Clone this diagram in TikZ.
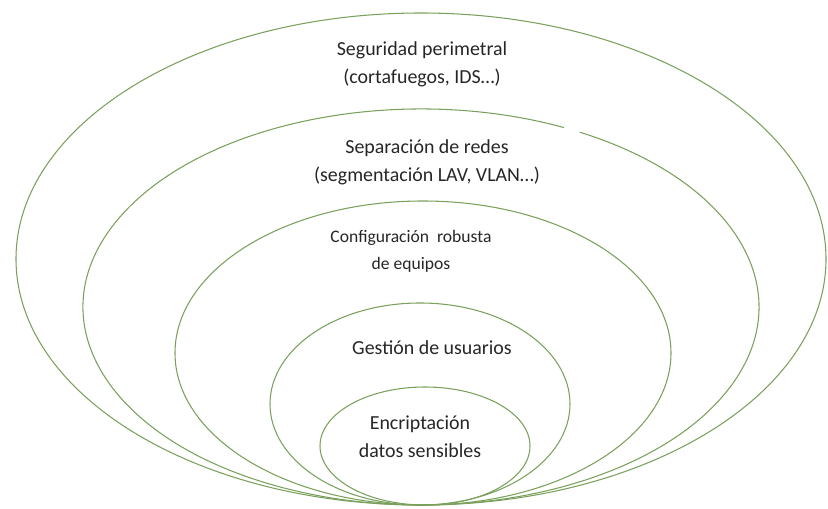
\documentclass[tikz,border=0pt]{standalone}
\usepackage{fontspec}
\setmainfont{Carlito}
\usetikzlibrary{positioning}
\definecolor{ringgreen}{RGB}{122,160,92}
\tikzset{
 ring/.style={draw=ringgreen,line width=0.9pt},
 ringtext/.style={align=center,text=black!85,inner sep=0pt,
             font=\fontsize{17}{24}\selectfont},
 smalltext/.style={ringtext,font=\fontsize{15}{23}\selectfont}
}
\begin{document}
\begin{tikzpicture}[x=0.03cm,y=0.03cm]
\useasboundingbox (0,0) rectangle (828,509);
% nested layers, all touching at the bottom
\draw[ring] (421,250) ellipse [x radius=405,y radius=246];
\draw[ring] ([shift={(65:338 and 198)}]421,202) arc [start angle=65,end angle=422,x radius=338,y radius=198];
\draw[ring] (423,156) ellipse [x radius=248,y radius=152];
\draw[ring] (420,105) ellipse [x radius=150,y radius=101];
\draw[ring] (425,63) ellipse [x radius=105,y radius=59];
\node[ringtext] (perim) at (422,445) {Seguridad perimetral\\(cortafuegos, IDS…)};
\node[ringtext] (redes) at (427,347) {Separación de redes\\(segmentación LAV, VLAN…)};
\node[smalltext] (config) at (411,258) {Configuración\ \ robusta\\de equipos};
\node[ringtext] (usuarios) at (432,161) {Gestión de usuarios};
\node[ringtext] (cifrado) at (420,72) {Encriptación\\datos sensibles};
\end{tikzpicture}
\end{document}
